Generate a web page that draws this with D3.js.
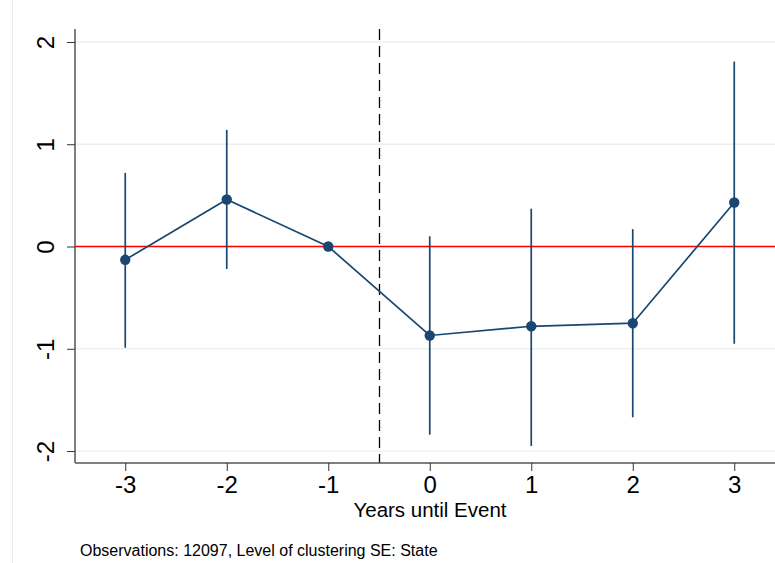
<!DOCTYPE html>
<html>
<head>
<meta charset="utf-8">
<script src="https://cdn.jsdelivr.net/npm/d3@7"></script>
<style>
  html, body { margin: 0; padding: 0; background: #fff; }
  svg { display: block; font-family: "Liberation Sans", Arial, sans-serif; }
</style>
</head>
<body>
<svg id="chart" width="775" height="563"></svg>
<script>
// Event-study estimates with 95% confidence intervals
const years = [-3, -2, -1, 0, 1, 2, 3];
const estimates = [-0.13, 0.46, 0.0, -0.87, -0.78, -0.75, 0.43];
const ciLower = [-0.99, -0.22, null, -1.84, -1.95, -1.67, -0.95];
const ciUpper = [0.72, 1.14, null, 0.10, 0.37, 0.17, 1.81];
const xTicks = [-3, -2, -1, 0, 1, 2, 3];
const yTicks = [-2, -1, 0, 1, 2];
const eventLine = -0.5;
const xTitle = "Years until Event";
const note = "Observations: 12097, Level of clustering SE: State";

const svg = d3.select("#chart");
const W = 775, H = 563;
const plotL = 75, plotR = 775, plotT = 29, plotB = 463;

const navy = "#1a476f";
const fmt = d => String(d);

const x = d3.scaleLinear().domain([-3.5, 3.4]).range([74.5, 74.5 + 101.5 * 6.9]);
const y = d3.scaleLinear().domain([-2.117, 2.127]).range([plotB, plotT]);

// outer graph-region edge
svg.append("line")
  .attr("x1", 12.5).attr("x2", 12.5).attr("y1", 0).attr("y2", H)
  .attr("stroke", "#e4ecee").attr("stroke-width", 1);

// horizontal gridlines
svg.append("g").selectAll("line").data(yTicks).join("line")
  .attr("x1", plotL).attr("x2", plotR)
  .attr("y1", d => y(d)).attr("y2", d => y(d))
  .attr("stroke", "#eaf0f2").attr("stroke-width", 1.5);

// reference line at zero
svg.append("line")
  .attr("x1", plotL).attr("x2", plotR)
  .attr("y1", y(0)).attr("y2", y(0))
  .attr("stroke", "#ff0000").attr("stroke-width", 1.4);

// event marker
const ex = Math.round(x(eventLine)) + 0.5;
svg.append("line")
  .attr("x1", ex).attr("x2", ex)
  .attr("y1", plotT).attr("y2", plotB)
  .attr("stroke", "#000").attr("stroke-width", 1.3)
  .attr("stroke-dasharray", "11,6");

// y axis
const yAxis = d3.axisLeft(y).tickValues(yTicks).tickSize(8).tickPadding(8)
  .tickFormat(fmt);
const gy = svg.append("g").attr("transform", `translate(${plotL},0)`).call(yAxis);
gy.select(".domain").attr("stroke", "#555").attr("stroke-width", 1.5)
  .attr("d", `M0,${plotT}V${plotB}`);
gy.selectAll(".tick line").attr("stroke", "#333");
gy.selectAll(".tick text")
  .attr("font-size", 24).attr("fill", "#000")
  .attr("text-anchor", "middle")
  .attr("x", 0).attr("dy", 0)
  .attr("transform", "translate(-30,0) rotate(-90)")
  .attr("dominant-baseline", "central");

// x axis
const xAxis = d3.axisBottom(x).tickValues(xTicks).tickSize(8).tickPadding(5)
  .tickFormat(fmt);
const gx = svg.append("g").attr("transform", `translate(0,${plotB})`).call(xAxis);
gx.select(".domain").attr("stroke", "#555").attr("stroke-width", 1.5)
  .attr("d", `M${plotL},0H${plotR}`);
gx.selectAll(".tick line").attr("stroke", "#333");
gx.selectAll(".tick text").attr("font-size", 24).attr("fill", "#000");

// confidence intervals
const ciData = years.map((yr, i) => ({ yr, lo: ciLower[i], hi: ciUpper[i] }))
  .filter(d => d.lo !== null);
svg.append("g").selectAll("line").data(ciData).join("line")
  .attr("x1", d => x(d.yr)).attr("x2", d => x(d.yr))
  .attr("y1", d => y(d.lo)).attr("y2", d => y(d.hi))
  .attr("stroke", navy).attr("stroke-width", 1.7);

// connecting line
const pts = years.map((yr, i) => ({ yr, v: estimates[i] }));
svg.append("path").datum(pts)
  .attr("d", d3.line().x(d => x(d.yr)).y(d => y(d.v)))
  .attr("fill", "none").attr("stroke", navy).attr("stroke-width", 1.7);

// point estimates
svg.append("g").selectAll("circle").data(pts).join("circle")
  .attr("cx", d => x(d.yr)).attr("cy", d => y(d.v)).attr("r", 5.2)
  .attr("fill", navy);

// axis title
svg.append("text")
  .attr("x", 430).attr("y", 517)
  .attr("text-anchor", "middle").attr("font-size", 20.5).attr("fill", "#000")
  .text(xTitle);

// note
svg.append("text")
  .attr("x", 80).attr("y", 556)
  .attr("font-size", 16).attr("fill", "#000")
  .text(note);
</script>
</body>
</html>
